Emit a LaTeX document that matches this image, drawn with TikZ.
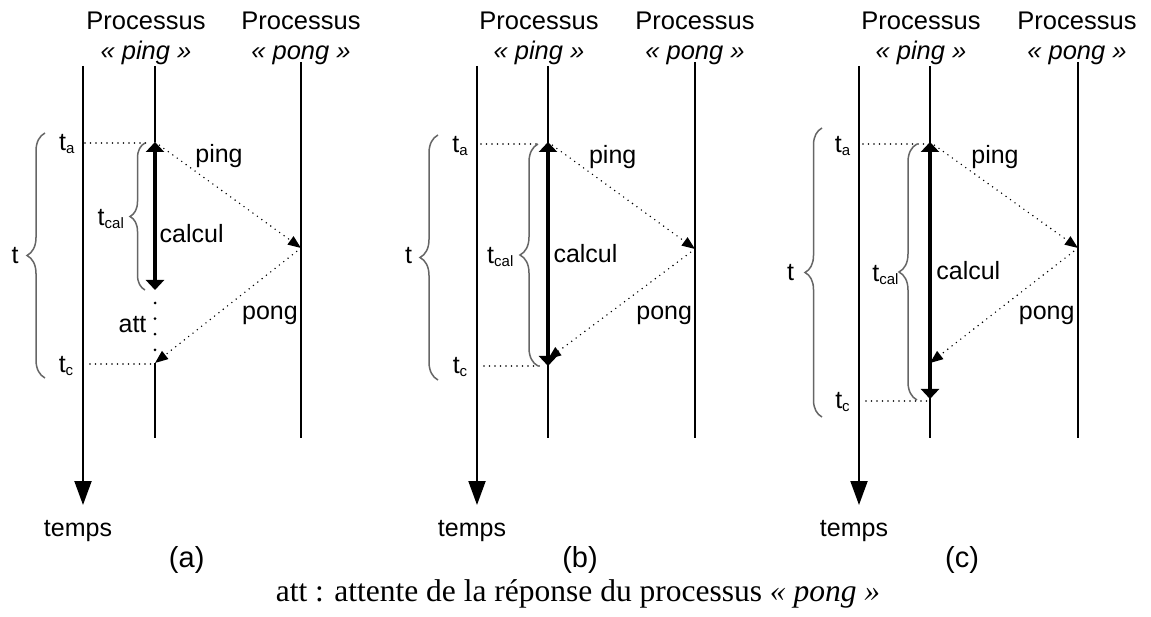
\documentclass[tikz,border=0pt]{standalone}
\usepackage{fontspec}
\setmainfont{Liberation Sans}
\newfontfamily\capfont{Liberation Serif}
\usetikzlibrary{arrows.meta,decorations.pathreplacing}
\newcommand\tsubx[1]{t\raisebox{-3pt}{\fontsize{15}{15}\selectfont #1}}
\begin{document}
\begin{tikzpicture}[x=1pt,y=-1pt,
  lbl/.style={font=\fontsize{25}{30}\selectfont, inner sep=0pt},
  hdr/.style={font=\fontsize{25.5}{30}\selectfont, inner sep=0pt, anchor=base},
  plab/.style={font=\fontsize{29}{34}\selectfont, inner sep=0pt},
  proc/.style={line width=2pt},
  taxis/.style={line width=2pt, -{Triangle[length=24pt,width=17pt]}},
  calc/.style={line width=4pt, {Triangle[length=10pt,width=18pt]}-{Triangle[length=10pt,width=18pt]}},
  msg/.style={line width=1.6pt, dash pattern=on 0pt off 5.5pt, line cap=round, -{Triangle[length=13pt,width=10pt]}},
  guide/.style={line width=1.6pt, dash pattern=on 0pt off 5.5pt, line cap=round},
  attdots/.style={line width=3pt, dash pattern=on 0pt off 15.6pt, line cap=round},
  brc/.style={draw=black!60, line width=1.5pt, decorate, decoration={brace, amplitude=#1}},
]
\useasboundingbox (0,0) rectangle (1151,617);

% ================= panel (a) =================
\coordinate (aAxT) at (83,66);
\coordinate (aAxB) at (83,505);
\coordinate (aPiT) at (155,66);
\coordinate (aPiA) at (155,142);
\coordinate (aPiE) at (155,290);
\coordinate (aPiC) at (155,363);
\coordinate (aPiB) at (155,438);
\coordinate (aPoT) at (301,62);
\coordinate (aPoM) at (301,248);
\coordinate (aPoB) at (301,438);
\coordinate (aAtT) at (155,303);
\coordinate (aAtB) at (155,351);
\coordinate (aGa1) at (85,143);
\coordinate (aGa2) at (147,143);
\coordinate (aGc1) at (90,364);
\coordinate (aGc2) at (152,364);
\coordinate (aB1b) at (45,378);
\coordinate (aB1t) at (45,133);
\coordinate (aB2b) at (145,290);
\coordinate (aB2t) at (145,143);

\draw[taxis] (aAxT) -- (aAxB);
\draw[proc] (aPiT) -- (aPiA);
\draw[proc] (aPiC) -- (aPiB);
\draw[proc] (aPoT) -- (aPoB);
\draw[calc] (aPiA) -- (aPiE);
\draw[attdots] (aAtT) -- (aAtB);
\draw[msg] (aPiA) -- (aPoM);
\draw[msg] (aPoM) -- (aPiC);
\draw[guide] (aGa1) -- (aGa2);
\draw[guide] (aGc1) -- (aGc2);
\draw[brc=18] (aB1b) -- (aB1t);
\draw[brc=15] (aB2b) -- (aB2t);

\node[hdr] (aH1) at (146,30) {Processus};
\node[hdr] (aH2) at (146,60) {\itshape « ping »};
\node[hdr] (aH3) at (301,30) {Processus};
\node[hdr] (aH4) at (301,60) {\itshape « pong »};
\node[lbl] (aT) at (15,256) {t};
\node[lbl] (aTa) at (66.7,144) {\tsubx{a}};
\node[lbl] (aTc) at (66,365.7) {\tsubx{c}};
\node[lbl] (aTcal) at (110.8,219) {\tsubx{cal}};
\node[lbl] (aPing) at (219,156) {ping};
\node[lbl] (aCalc) at (191.7,234) {calcul};
\node[lbl] (aPong) at (270,315.8) {pong};
\node[lbl] (aAtt) at (132.5,324.5) {att};
\node[lbl] (aTemps) at (78,531) {temps};
\node[plab] (aLab) at (186.7,560) {(a)};

% ================= panel (b) =================
\coordinate (bAxT) at (477,66);
\coordinate (bAxB) at (477,505);
\coordinate (bPiT) at (548,66);
\coordinate (bPiA) at (548,142);
\coordinate (bPiE) at (548,366);
\coordinate (bPiC) at (548,359);
\coordinate (bPiB) at (548,438);
\coordinate (bPoT) at (695,62);
\coordinate (bPoM) at (695,249);
\coordinate (bPoB) at (695,438);
\coordinate (bGa1) at (481,144);
\coordinate (bGa2) at (540,144);
\coordinate (bGc1) at (484,366);
\coordinate (bGc2) at (542,366);
\coordinate (bB1b) at (438,380);
\coordinate (bB1t) at (438,135);
\coordinate (bB2b) at (538,366);
\coordinate (bB2t) at (538,144);

\draw[taxis] (bAxT) -- (bAxB);
\draw[proc] (bPiT) -- (bPiB);
\draw[proc] (bPoT) -- (bPoB);
\draw[calc] (bPiA) -- (bPiE);
\draw[msg] (bPiA) -- (bPoM);
\draw[msg] (bPoM) -- (bPiC);
\draw[guide] (bGa1) -- (bGa2);
\draw[guide] (bGc1) -- (bGc2);
\draw[brc=18] (bB1b) -- (bB1t);
\draw[brc=18] (bB2b) -- (bB2t);

\node[hdr] (bH1) at (539,30) {Processus};
\node[hdr] (bH2) at (539,60) {\itshape « ping »};
\node[hdr] (bH3) at (695,30) {Processus};
\node[hdr] (bH4) at (695,60) {\itshape « pong »};
\node[lbl] (bT) at (408.5,255.5) {t};
\node[lbl] (bTa) at (460,146) {\tsubx{a}};
\node[lbl] (bTc) at (460,366.7) {\tsubx{c}};
\node[lbl] (bTcal) at (500.3,257) {\tsubx{cal}};
\node[lbl] (bPing) at (612.7,157) {ping};
\node[lbl] (bCalc) at (585.5,253.3) {calcul};
\node[lbl] (bPong) at (664.2,315.8) {pong};
\node[lbl] (bTemps) at (472,531) {temps};
\node[plab] (bLab) at (580,560) {(b)};

% ================= panel (c) =================
\coordinate (cAxT) at (859,66);
\coordinate (cAxB) at (859,505);
\coordinate (cPiT) at (930,66);
\coordinate (cPiA) at (930,142);
\coordinate (cPiE) at (930,399);
\coordinate (cPiC) at (930,363);
\coordinate (cPiB) at (930,438);
\coordinate (cPoT) at (1078,62);
\coordinate (cPoM) at (1078,248);
\coordinate (cPoB) at (1078,438);
\coordinate (cGa1) at (863,144);
\coordinate (cGa2) at (927,144);
\coordinate (cGc1) at (866,401);
\coordinate (cGc2) at (928,401);
\coordinate (cB1b) at (822,417);
\coordinate (cB1t) at (822,128);
\coordinate (cB2b) at (917,400);
\coordinate (cB2t) at (917,144);

\draw[taxis] (cAxT) -- (cAxB);
\draw[proc] (cPiT) -- (cPiB);
\draw[proc] (cPoT) -- (cPoB);
\draw[calc] (cPiA) -- (cPiE);
\draw[msg] (cPiA) -- (cPoM);
\draw[msg] (cPoM) -- (cPiC);
\draw[guide] (cGa1) -- (cGa2);
\draw[guide] (cGc1) -- (cGc2);
\draw[brc=17] (cB1b) -- (cB1t);
\draw[brc=18] (cB2b) -- (cB2t);

\node[hdr] (cH1) at (921,30) {Processus};
\node[hdr] (cH2) at (921,60) {\itshape « ping »};
\node[hdr] (cH3) at (1077,30) {Processus};
\node[hdr] (cH4) at (1077,60) {\itshape « pong »};
\node[lbl] (cT) at (790.7,273) {t};
\node[lbl] (cTa) at (842.5,146) {\tsubx{a}};
\node[lbl] (cTc) at (842.5,401.7) {\tsubx{c}};
\node[lbl] (cTcal) at (885.5,275) {\tsubx{cal}};
\node[lbl] (cPing) at (995,156.7) {ping};
\node[lbl] (cCalc) at (968.3,270.5) {calcul};
\node[lbl] (cPong) at (1046.7,315.8) {pong};
\node[lbl] (cTemps) at (854,531) {temps};
\node[plab] (cLab) at (962,560) {(c)};

% ================= caption =================
\node[font=\capfont\fontsize{31.5}{36}\selectfont, inner sep=0pt, anchor=base] (cap) at (578,601)
  {att : attente de la réponse du processus \textit{« pong »}};
\end{tikzpicture}
\end{document}
